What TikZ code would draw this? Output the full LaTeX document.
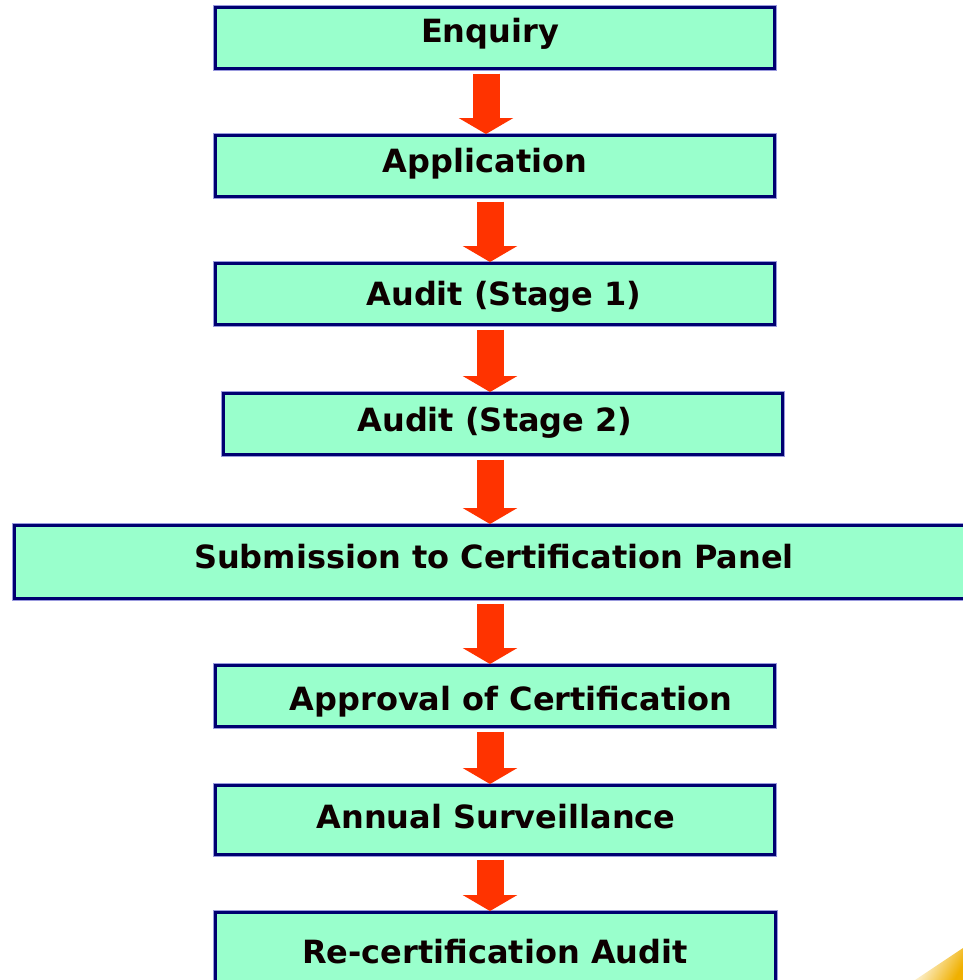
\documentclass[tikz,border=0pt]{standalone}
\usepackage{fontspec}
\setmainfont{DejaVu Sans}
\usetikzlibrary{arrows.meta}
\definecolor{boxfill}{HTML}{99FFCC}
\definecolor{boxline}{HTML}{000070}
\definecolor{halo}{HTML}{9999DD}
\definecolor{arrowred}{HTML}{FF3300}
\definecolor{corneryellow}{HTML}{F0B000}
\tikzset{
  stagebox/.style={draw=boxline, fill=boxfill, line width=3pt, inner sep=0pt,
    minimum height=61pt, rectangle,
    preaction={draw=halo, line width=5pt}},
  stagetext/.style={anchor=base, inner sep=0pt, font=\fontsize{32}{36}\selectfont\bfseries, text=black!95!red},
  flowarrow/.style={draw=arrowred, line width=27pt,
    -{Triangle[width=54pt,length=16pt,fill=arrowred]}, shorten <=3.5pt}
}
\begin{document}
\begin{tikzpicture}[x=1pt,y=-1pt]
\useasboundingbox (0,0) rectangle (963,980);
\clip (0,0) rectangle (963,980);
\fill[white] (0,0) rectangle (963,980);
% decorative corner
\shade[left color=white, right color=corneryellow, shading angle=60]
  (915,980) -- (963,948) -- (963,980) -- cycle;
% boxes
\node[stagebox, minimum width=559pt] (enq) at (495,38) {};
\node[stagebox, minimum width=559pt] (app) at (495,166) {};
\node[stagebox, minimum width=559pt] (st1) at (495,294) {};
\node[stagebox, minimum width=559pt] (st2) at (503,424) {};
\node[stagebox, minimum width=962pt, minimum height=73pt] (sub) at (495.5,562) {};
\node[stagebox, minimum width=559pt] (apr) at (495,696) {};
\node[stagebox, minimum width=559pt, minimum height=69pt] (ann) at (495,820) {};
\node[stagebox, minimum width=560pt, minimum height=85pt] (rec) at (495.5,955) {};
% texts
\node[stagetext] (tenq) at (490,42) {Enquiry};
\node[stagetext] (tapp) at (485,172) {Application};
\node[stagetext] (tst1) at (504,305) {Audit (Stage 1)};
\node[stagetext] (tst2) at (495,431) {Audit (Stage 2)};
\node[stagetext] (tsub) at (494,568) {Submission to Certification Panel};
\node[stagetext] (tapr) at (511,710) {Approval of Certification};
\node[stagetext] (tann) at (496,828) {Annual Surveillance};
\node[stagetext] (trec) at (495,963) {Re-certification Audit};
% arrow axes
\coordinate (ax1) at (486,0);
\coordinate (ax) at (490,0);
\draw[flowarrow] (enq.south -| ax1) -- (app.north -| ax1);
\draw[flowarrow] (app.south -| ax) -- (st1.north -| ax);
\draw[flowarrow] (st1.south -| ax) -- (st2.north -| ax);
\draw[flowarrow] (st2.south -| ax) -- (sub.north -| ax);
\draw[flowarrow] (sub.south -| ax) -- (apr.north -| ax);
\draw[flowarrow] (apr.south -| ax) -- (ann.north -| ax);
\draw[flowarrow] (ann.south -| ax) -- (rec.north -| ax);
\end{tikzpicture}
\end{document}
